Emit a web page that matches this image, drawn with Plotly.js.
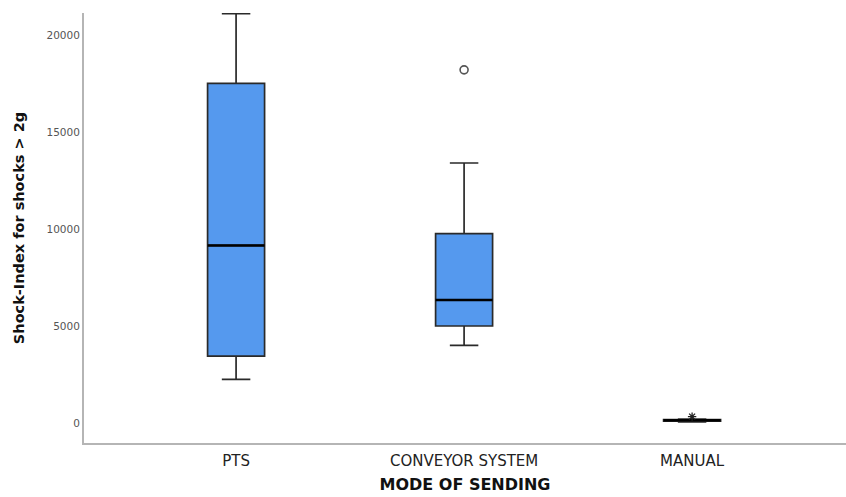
<!DOCTYPE html>
<html>
<head>
<meta charset="utf-8">
<script src="https://cdn.plot.ly/plotly-3.0.1.min.js"></script>
<style>html,body{margin:0;padding:0;background:#fff;}#chart{width:846px;height:497px;}</style>
</head>
<body>
<div id="chart"></div>
<script>
const categories = ["PTS", "CONVEYOR SYSTEM", "MANUAL"];
const lowerFence = [2250, 4000, 60];
const q1 = [3450, 5000, 100];
const median = [9150, 6340, 140];
const q3 = [17500, 9760, 170];
const upperFence = [21100, 13400, 200];
const outlierCat = [1];
const outlierVal = [18200];
const extremeCat = [2];
const extremeVal = [330];

const pos = categories.map((c, i) => i);
const halfW = 0.125;

const traces = [];
traces.push({
  type: 'box',
  x: pos,
  q1: q1, median: median, q3: q3,
  lowerfence: lowerFence, upperfence: upperFence,
  width: 2 * halfW,
  whiskerwidth: 0.5,
  fillcolor: '#5599ee',
  line: {color: '#2a2a2a', width: 1.7},
  boxpoints: false,
  hoverinfo: 'skip',
  showlegend: false
});
// thick median lines
const mx = [], my = [];
pos.forEach((p, i) => { mx.push(p - halfW, p + halfW, null); my.push(median[i], median[i], null); });
traces.push({type: 'scatter', mode: 'lines', x: mx, y: my, line: {color: '#000', width: 2.6}, showlegend: false, hoverinfo: 'skip'});
traces.push({type: 'scatter', mode: 'markers', x: outlierCat, y: outlierVal,
  marker: {symbol: 'circle-open', size: 8, color: '#555', line: {width: 1.6, color: '#555'}}, showlegend: false});
traces.push({type: 'scatter', mode: 'markers', x: extremeCat, y: extremeVal,
  marker: {symbol: 'asterisk-open', size: 7, color: '#222', line: {width: 1.3, color: '#222'}}, showlegend: false});

const layout = {
  width: 846, height: 497,
  margin: {l: 84, r: 0, t: 13, b: 54},
  paper_bgcolor: '#fff', plot_bgcolor: '#fff',
  font: {family: 'DejaVu Sans, Verdana, sans-serif', color: '#222'},
  showlegend: false,
  xaxis: {
    range: [-0.667, 2.675],
    tickvals: pos, ticktext: categories,
    showgrid: false, zeroline: false,
    showline: true, linecolor: '#b5b5b5', linewidth: 2,
    ticks: '', ticklabelstandoff: 3, tickfont: {size: 15, color: '#222'},
    title: {text: '<b>MODE OF SENDING</b>', font: {size: 16, color: '#111'}, standoff: 10}
  },
  yaxis: {
    range: [-1030, 21130],
    tickvals: [0, 5000, 10000, 15000, 20000],
    ticktext: ['0', '5000', '10000', '15000', '20000'],
    showgrid: false, zeroline: false,
    showline: true, linecolor: '#b5b5b5', linewidth: 2,
    ticks: '', tickfont: {size: 10.5, color: '#555'},
    title: {text: '<b>Shock-Index for shocks &gt; 2g</b>', font: {size: 14.5, color: '#111'}, standoff: 18}
  }
};
Plotly.newPlot('chart', traces, layout, {displayModeBar: false, staticPlot: true});
</script>
</body>
</html>
